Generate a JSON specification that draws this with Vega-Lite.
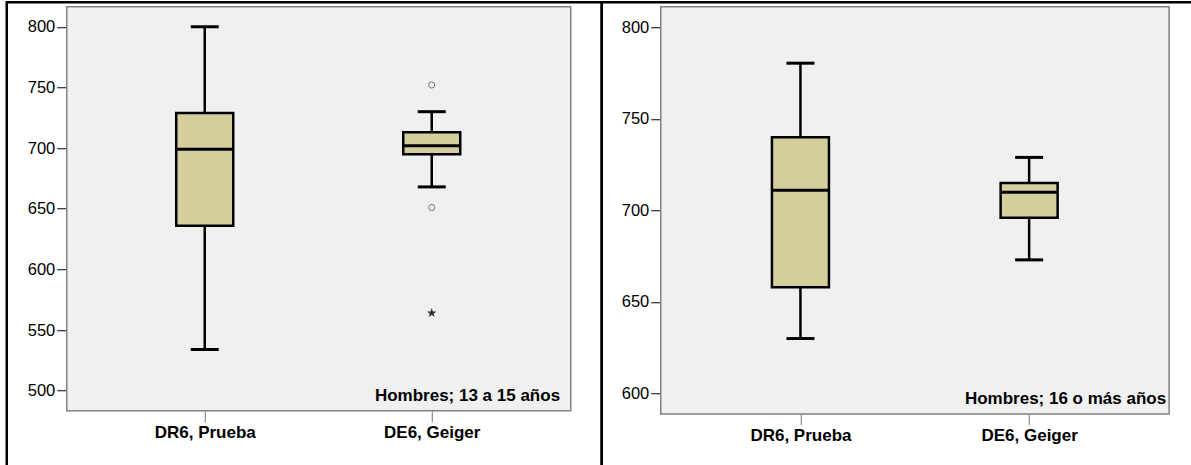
{
  "$schema": "https://vega.github.io/schema/vega-lite/v6.json",
  "padding": {"left": 4.75, "top": 0.25, "right": 0, "bottom": 0},
  "background": "white",
  "bounds": "flush",
  "spacing": 0,
  "datasets": {
    "panels": [
      {"panel": "Hombres; 13 a 15 años"},
      {"panel": "Hombres; 16 o más años"}
    ],
    "boxes": [
      {"panel": "Hombres; 13 a 15 años", "variable": "DR6, Prueba", "lower": 534, "q1": 636, "median": 699, "q3": 729, "upper": 800},
      {"panel": "Hombres; 13 a 15 años", "variable": "DE6, Geiger", "lower": 668, "q1": 695, "median": 702, "q3": 713, "upper": 730},
      {"panel": "Hombres; 16 o más años", "variable": "DR6, Prueba", "lower": 630, "q1": 658, "median": 711, "q3": 740, "upper": 780.5},
      {"panel": "Hombres; 16 o más años", "variable": "DE6, Geiger", "lower": 673, "q1": 696, "median": 710, "q3": 715, "upper": 729}
    ],
    "outliers": [
      {"panel": "Hombres; 13 a 15 años", "variable": "DE6, Geiger", "value": 752, "kind": "outlier"},
      {"panel": "Hombres; 13 a 15 años", "variable": "DE6, Geiger", "value": 651, "kind": "outlier"},
      {"panel": "Hombres; 13 a 15 años", "variable": "DE6, Geiger", "value": 564, "kind": "extreme"}
    ]
  },
  "hconcat": [
    {
      "width": 595,
      "height": 466,
      "layer": [
        {
          "data": {"name": "panels"},
          "transform": [{"filter": "datum.panel === 'Hombres; 13 a 15 años'"}],
          "layer": [
            {
              "mark": {"type": "rect", "fill": "#f0f0f0", "stroke": "#808080", "strokeWidth": 1.5},
              "encoding": {
                "x": {"datum": 0.1008, "type": "quantitative", "scale": {"domain": [0, 1], "nice": false, "zero": false}, "axis": null},
                "x2": {"datum": 0.9479},
                "y": {"datum": 816.5, "type": "quantitative", "scale": {"domain": [436.1, 820.2], "nice": false, "zero": false}},
                "y2": {"datum": 483.5}
              }
            },
            {
              "mark": {"type": "text", "align": "right", "baseline": "alphabetic", "font": "Liberation Sans", "fontSize": 17, "fontWeight": "bold", "color": "#000"},
              "encoding": {
                "x": {"datum": 0.930, "type": "quantitative"},
                "y": {"datum": 491.2, "type": "quantitative"},
                "text": {"field": "panel"}
              }
            }
          ]
        },
        {
          "data": {"name": "boxes"},
          "transform": [{"filter": "datum.panel === 'Hombres; 13 a 15 años'"}],
          "encoding": {
            "x": {
              "field": "variable", "type": "nominal",
              "scale": {"type": "point", "domain": ["DR6, Prueba", "DE6, Geiger"], "padding": 0.8106, "align": 0.538},
              "axis": {"title": null, "orient": "bottom", "offset": -57.5, "domain": false, "grid": false, "tickSize": 11, "tickColor": "#777777", "tickWidth": 1, "labelAngle": 0, "labelFont": "Liberation Sans", "labelFontWeight": "bold", "labelFontSize": 17, "labelColor": "#000", "labelPadding": 3}
            }
          },
          "layer": [
            {
              "mark": {"type": "rule", "color": "#000", "strokeWidth": 2.5},
              "encoding": {
                "y": {"field": "lower", "type": "quantitative", "scale": {"domain": [436.1, 820.2], "nice": false, "zero": false},
                  "axis": {"title": null, "values": [500, 550, 600, 650, 700, 750, 800], "offset": -60, "domain": false, "grid": false, "tickSize": 10, "tickColor": "#000", "labelFont": "Liberation Sans", "labelFontSize": 16.5, "labelColor": "#000", "labelPadding": 2}},
                "y2": {"field": "upper"}
              }
            },
            {
              "mark": {"type": "bar", "size": 57, "fill": "#d4cf9c", "stroke": "#000", "strokeWidth": 2.5},
              "encoding": {"y": {"field": "q1", "type": "quantitative"}, "y2": {"field": "q3"}}
            },
            {
              "mark": {"type": "tick", "size": 57, "thickness": 3, "color": "#000", "opacity": 1},
              "encoding": {"y": {"field": "median", "type": "quantitative"}}
            },
            {
              "mark": {"type": "tick", "size": 28, "thickness": 3, "color": "#000", "opacity": 1},
              "encoding": {"y": {"field": "lower", "type": "quantitative"}}
            },
            {
              "mark": {"type": "tick", "size": 28, "thickness": 3, "color": "#000", "opacity": 1},
              "encoding": {"y": {"field": "upper", "type": "quantitative"}}
            },
            {
              "data": {"name": "outliers"},
              "transform": [{"filter": "datum.panel === 'Hombres; 13 a 15 años' && datum.kind === 'outlier'"}],
              "mark": {"type": "point", "shape": "circle", "filled": false, "stroke": "#444", "strokeWidth": 1, "size": 38},
              "encoding": {"y": {"field": "value", "type": "quantitative"}}
            },
            {
              "data": {"name": "outliers"},
              "transform": [{"filter": "datum.panel === 'Hombres; 13 a 15 años' && datum.kind === 'extreme'"}],
              "mark": {"type": "point", "shape": "M0,-1L0.235,-0.324L0.951,-0.309L0.380,0.124L0.588,0.809L0,0.4L-0.588,0.809L-0.380,0.124L-0.951,-0.309L-0.235,-0.324Z", "filled": true, "color": "#333", "opacity": 1, "size": 100},
              "encoding": {"y": {"field": "value", "type": "quantitative"}}
            }
          ]
        }
      ],
      "resolve": {"scale": {"x": "independent"}}
    },
    {
      "width": 593,
      "height": 466,
      "layer": [
        {
          "data": {"name": "panels"},
          "transform": [{"filter": "datum.panel === 'Hombres; 16 o más años'"}],
          "layer": [
            {
              "mark": {"type": "rect", "fill": "#f0f0f0", "stroke": "#808080", "strokeWidth": 1.5},
              "encoding": {
                "x": {"datum": 0.0995, "type": "quantitative", "scale": {"domain": [0, 1], "nice": false, "zero": false}, "axis": null},
                "x2": {"datum": 0.9568},
                "y": {"datum": 811.3, "type": "quantitative", "scale": {"domain": [559.1, 813.8], "nice": false, "zero": false}},
                "y2": {"datum": 588.7}
              }
            },
            {
              "mark": {"type": "text", "align": "right", "baseline": "alphabetic", "font": "Liberation Sans", "fontSize": 17, "fontWeight": "bold", "color": "#000"},
              "encoding": {
                "x": {"datum": 0.9518, "type": "quantitative"},
                "y": {"datum": 594.2, "type": "quantitative"},
                "text": {"field": "panel"}
              }
            }
          ]
        },
        {
          "data": {"name": "boxes"},
          "transform": [{"filter": "datum.panel === 'Hombres; 16 o más años'"}],
          "encoding": {
            "x": {
              "field": "variable", "type": "nominal",
              "scale": {"type": "point", "domain": ["DR6, Prueba", "DE6, Geiger"], "padding": 0.7965, "align": 0.5454},
              "axis": {"title": null, "orient": "bottom", "offset": -54.5, "domain": false, "grid": false, "tickSize": 11, "tickColor": "#777777", "tickWidth": 1, "labelAngle": 0, "labelFont": "Liberation Sans", "labelFontWeight": "bold", "labelFontSize": 17, "labelColor": "#000", "labelPadding": 3}
            }
          },
          "layer": [
            {
              "mark": {"type": "rule", "color": "#000", "strokeWidth": 2.5},
              "encoding": {
                "y": {"field": "lower", "type": "quantitative", "scale": {"domain": [559.1, 813.8], "nice": false, "zero": false},
                  "axis": {"title": null, "values": [600, 650, 700, 750, 800], "offset": -59, "domain": false, "grid": false, "tickSize": 10, "tickColor": "#000", "labelFont": "Liberation Sans", "labelFontSize": 16.5, "labelColor": "#000", "labelPadding": 2}},
                "y2": {"field": "upper"}
              }
            },
            {
              "mark": {"type": "bar", "size": 57, "fill": "#d4cf9c", "stroke": "#000", "strokeWidth": 2.5},
              "encoding": {"y": {"field": "q1", "type": "quantitative"}, "y2": {"field": "q3"}}
            },
            {
              "mark": {"type": "tick", "size": 57, "thickness": 3, "color": "#000", "opacity": 1},
              "encoding": {"y": {"field": "median", "type": "quantitative"}}
            },
            {
              "mark": {"type": "tick", "size": 28, "thickness": 3, "color": "#000", "opacity": 1},
              "encoding": {"y": {"field": "lower", "type": "quantitative"}}
            },
            {
              "mark": {"type": "tick", "size": 28, "thickness": 3, "color": "#000", "opacity": 1},
              "encoding": {"y": {"field": "upper", "type": "quantitative"}}
            }
          ]
        }
      ],
      "resolve": {"scale": {"x": "independent"}}
    }
  ],
  "config": {
    "view": {"stroke": "#000", "strokeWidth": 2.5, "fill": "white"}
  }
}
